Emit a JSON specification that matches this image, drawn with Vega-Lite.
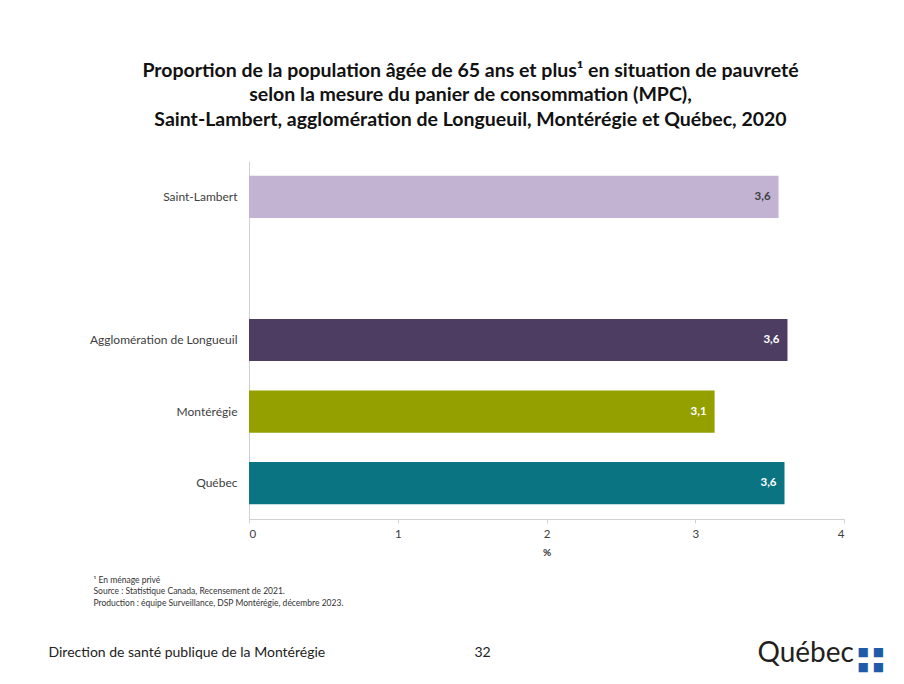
{
  "$schema": "https://vega.github.io/schema/vega-lite/v6.json",
  "width": 595,
  "height": 358,
  "autosize": {"type": "none"},
  "padding": {"left": 249, "top": 161, "right": 60, "bottom": 165},
  "background": "white",
  "config": {
    "font": "Lato",
    "locale": {"number": {"decimal": ",", "thousands": " ", "grouping": [3], "currency": ["", " $"]}},
    "view": {"stroke": null},
    "axis": {"grid": false, "labelFont": "Lato", "titleFont": "Lato"}
  },
  "title": {
    "text": [
      "Proportion de la population âgée de 65 ans et plus¹ en situation de pauvreté",
      "selon la mesure du panier de consommation (MPC),",
      "Saint-Lambert, agglomération de Longueuil, Montérégie et Québec, 2020"
    ],
    "frame": "group",
    "anchor": "middle",
    "dx": -76,
    "offset": 31,
    "font": "Lato",
    "fontSize": 19.5,
    "fontWeight": "bold",
    "color": "#111111",
    "lineHeight": 24.5
  },
  "data": {
    "values": [
      {"region": "Saint-Lambert", "valeur": 3.56},
      {"region": "Agglomération de Longueuil", "valeur": 3.62},
      {"region": "Montérégie", "valeur": 3.13},
      {"region": "Québec", "valeur": 3.6}
    ]
  },
  "resolve": {"axis": {"x": "independent", "y": "independent"}},
  "layer": [
    {
      "mark": {"type": "bar"},
      "encoding": {
        "y": {
          "field": "region",
          "type": "nominal",
          "sort": null,
          "scale": {
            "domain": ["Saint-Lambert", " ", "Agglomération de Longueuil", "Montérégie", "Québec"],
            "paddingInner": 0.41,
            "paddingOuter": 0.205
          },
          "axis": {
            "title": [
              "¹ En ménage privé",
              "Source : Statistique Canada, Recensement de 2021.",
              "Production : équipe Surveillance, DSP Montérégie, décembre 2023."
            ],
            "titleAngle": 0,
            "titleAlign": "left",
            "titleBaseline": "middle",
            "titleX": -156,
            "titleY": 418,
            "titleFontSize": 8.5,
            "titleFontWeight": "normal",
            "titleColor": "#333333",
            "titleLineHeight": 11.5,
            "labelFontSize": 12,
            "labelColor": "#404040",
            "labelPadding": 12,
            "ticks": false,
            "domainColor": "#D0D0D0"
          }
        },
        "x": {
          "field": "valeur",
          "type": "quantitative",
          "scale": {"domain": [0, 4], "nice": false},
          "axis": {
            "values": [0, 1, 2, 3, 4],
            "format": "d",
            "title": "%",
            "titleFontSize": 10,
            "titleFontWeight": "bold",
            "titleColor": "#333333",
            "titlePadding": 8,
            "labelFontSize": 11.5,
            "labelColor": "#404040",
            "labelPadding": 5,
            "tickSize": 4,
            "tickColor": "#D0D0D0",
            "domainColor": "#D0D0D0"
          }
        },
        "color": {
          "field": "region",
          "type": "nominal",
          "scale": {
            "domain": ["Saint-Lambert", "Agglomération de Longueuil", "Montérégie", "Québec"],
            "range": ["#C3B3D3", "#4E3D62", "#93A000", "#0A7482"]
          },
          "legend": null
        }
      }
    },
    {
      "transform": [{"filter": "datum.region !== 'Saint-Lambert'"}],
      "mark": {"type": "text", "align": "right", "baseline": "middle", "dx": -8, "fontWeight": "bold", "fontSize": 11.5, "color": "white"},
      "encoding": {
        "y": {
          "field": "region",
          "type": "nominal",
          "sort": null,
          "axis": {
            "orient": "right",
            "labels": false,
            "ticks": false,
            "domain": false,
            "title": "Québec",
            "titleAngle": 0,
            "titleAlign": "left",
            "titleBaseline": "middle",
            "titleX": -87,
            "titleY": 492,
            "titleFontSize": 28,
            "titleFontWeight": "normal",
            "titleColor": "#231F20"
          }
        },
        "x": {
          "field": "valeur",
          "type": "quantitative",
          "axis": {
            "orient": "bottom",
            "labels": false,
            "ticks": false,
            "domain": false,
            "title": "Direction de santé publique de la Montérégie",
            "titleX": -201,
            "titleY": 133,
            "titleAlign": "left",
            "titleBaseline": "middle",
            "titleFontSize": 14,
            "titleFontWeight": "normal",
            "titleColor": "#222222"
          }
        },
        "text": {"field": "valeur", "type": "quantitative", "format": ".1f"}
      }
    },
    {
      "transform": [{"filter": "datum.region === 'Saint-Lambert'"}],
      "mark": {"type": "text", "align": "right", "baseline": "middle", "dx": -8, "fontWeight": "bold", "fontSize": 11.5, "color": "#404040"},
      "encoding": {
        "y": {
          "field": "region",
          "type": "nominal",
          "sort": null,
          "axis": {
            "orient": "right",
            "labels": false,
            "ticks": false,
            "domain": false,
            "title": ["■ ■", "■ ■"],
            "titleAngle": 0,
            "titleAlign": "left",
            "titleBaseline": "middle",
            "titleX": 13,
            "titleY": 490,
            "titleFont": "DejaVu Sans",
            "titleFontSize": 12,
            "titleFontWeight": "normal",
            "titleLineHeight": 15,
            "titleColor": "#1F5BA8"
          }
        },
        "x": {
          "field": "valeur",
          "type": "quantitative",
          "axis": {
            "orient": "top",
            "labels": false,
            "ticks": false,
            "domain": false,
            "title": "32",
            "titleX": 233,
            "titleY": 491,
            "titleAlign": "center",
            "titleBaseline": "middle",
            "titleFontSize": 14,
            "titleFontWeight": "normal",
            "titleColor": "#222222"
          }
        },
        "text": {"field": "valeur", "type": "quantitative", "format": ".1f"}
      }
    }
  ]
}
